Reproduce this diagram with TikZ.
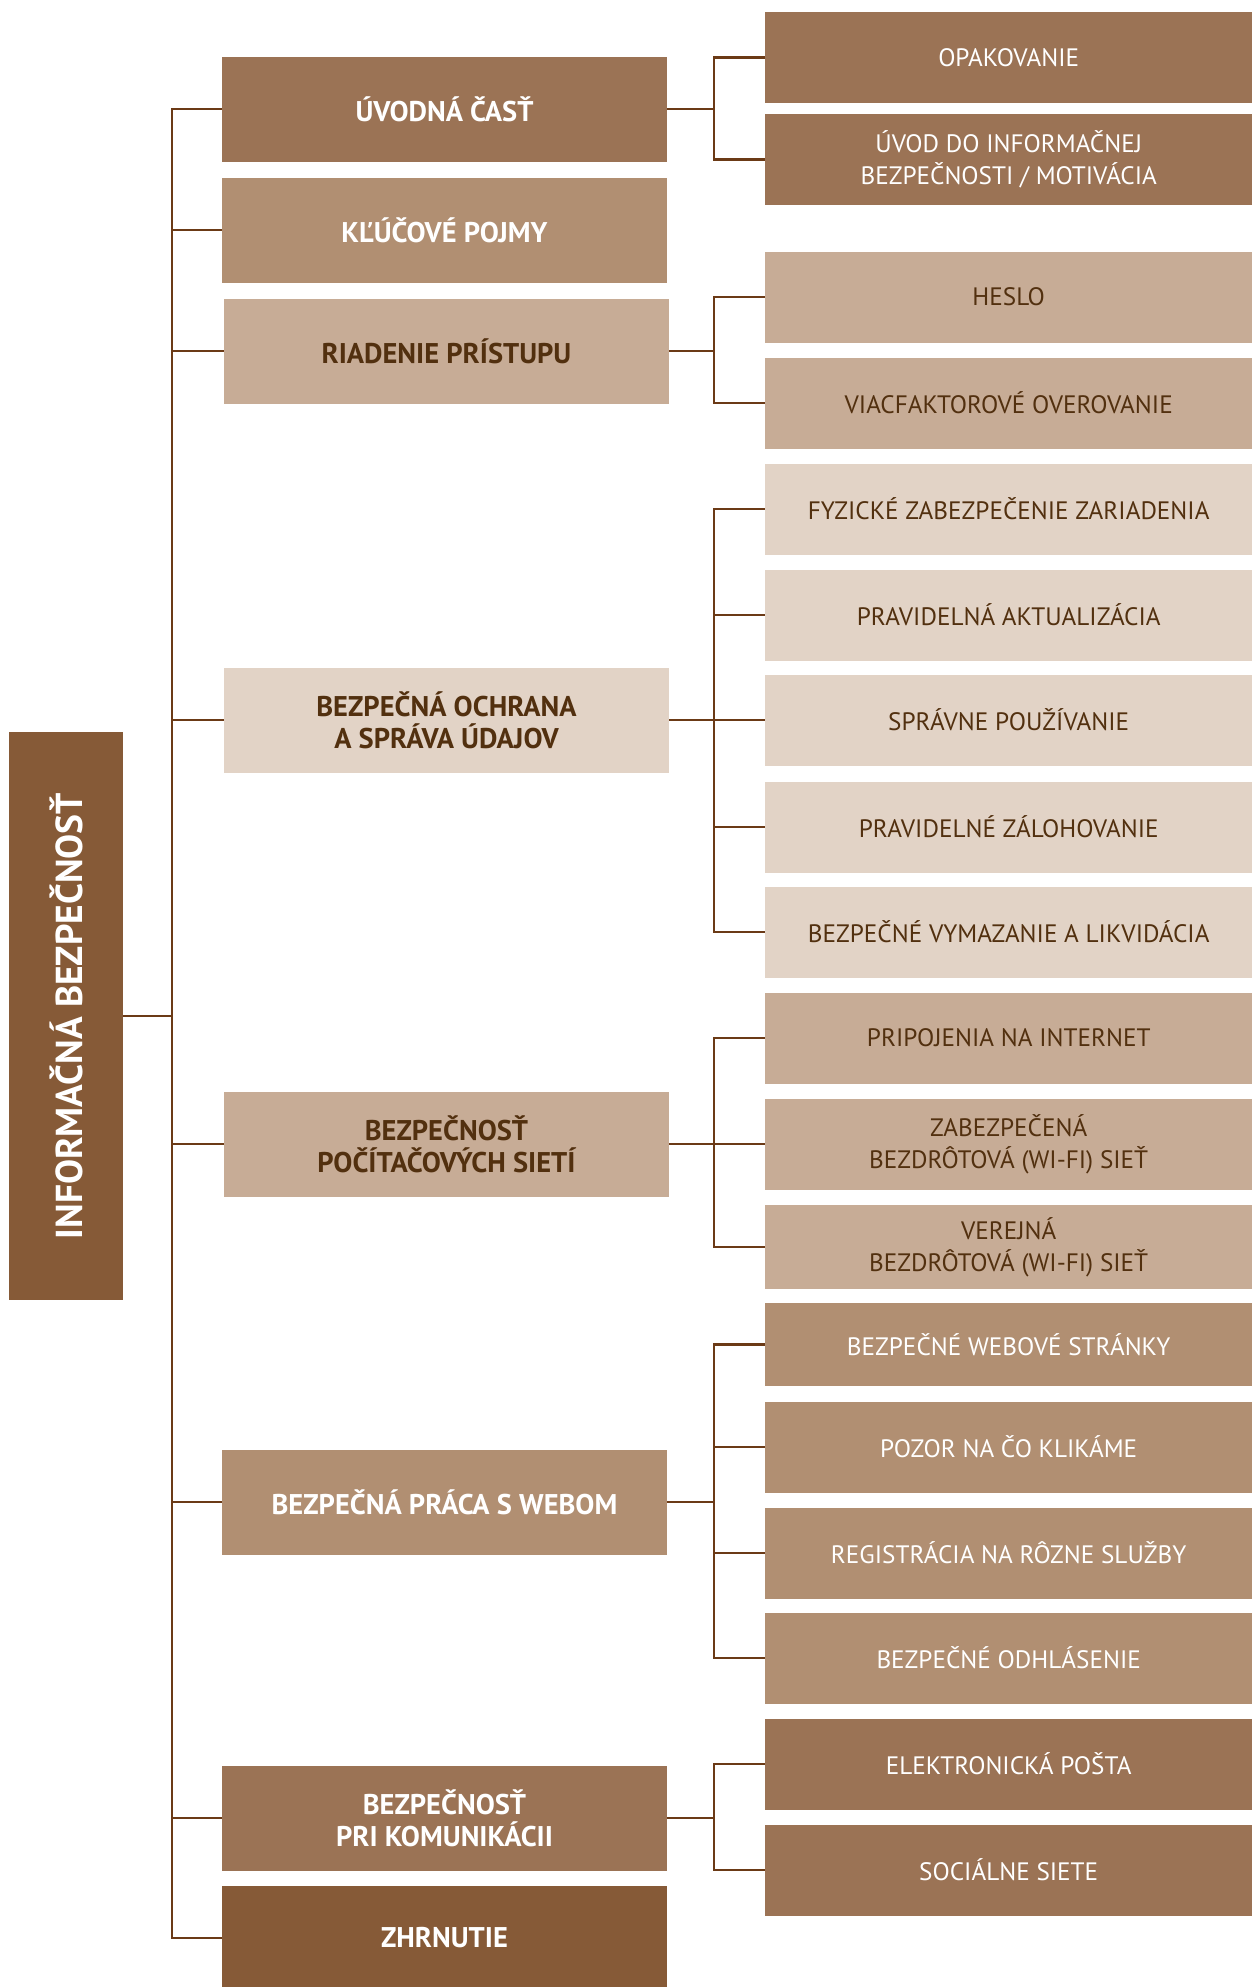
\documentclass[tikz,border=0pt]{standalone}
\usepackage{fontspec}
\setmainfont{PT Sans}
\usetikzlibrary{positioning,calc}
\definecolor{hnedaA}{HTML}{865A37}
\definecolor{hnedaB}{HTML}{9B7355}
\definecolor{hnedaC}{HTML}{B18F72}
\definecolor{hnedaD}{HTML}{C7AC96}
\definecolor{hnedaE}{HTML}{E2D3C6}
\definecolor{pismo}{HTML}{52300F}
\definecolor{ciara}{HTML}{6B3A16}

\begin{document}
\begin{tikzpicture}[x=1pt,y=-1pt,
 box/.style={rectangle,inner sep=0pt,align=center},
 hlavny/.style={box,minimum width=445pt,minimum height=105pt,font=\bfseries\fontsize{28.5}{32}\selectfont},
 podbod/.style={box,anchor=west,minimum width=487pt,minimum height=91pt,font=\fontsize{25.2}{32}\selectfont},
 tA/.style={fill=hnedaA,text=white},
 tB/.style={fill=hnedaB,text=white},
 tC/.style={fill=hnedaC,text=white},
 tD/.style={fill=hnedaD,text=pismo},
 tE/.style={fill=hnedaE,text=pismo},
 ln/.style={draw=ciara,line width=2.3pt}]
 \useasboundingbox (0,0) rectangle (1252,1987);
 % root
 \node[box,tA,rotate=90,minimum width=568pt,minimum height=114pt,font=\bfseries\fontsize{37.5}{40}\selectfont] (root) at (66,1016) {INFORMAČNÁ BEZPEČNOSŤ};
 \coordinate (trunk) at (172,0);
 \coordinate (bus) at (714,0);
 % level 1
 \node[hlavny,tB] (uvod) at (444.5,109) {ÚVODNÁ ČASŤ};
 \node[hlavny,tC] (kluc) at (444.5,230) {KĽÚČOVÉ POJMY};
 \node[hlavny,tD] (riad) at (446.5,351) {RIADENIE PRÍSTUPU};
 \node[hlavny,tE] (ochr) at (446.5,720) {BEZPEČNÁ OCHRANA\\A SPRÁVA ÚDAJOV};
 \node[hlavny,tD] (siete) at (446.5,1144) {BEZPEČNOSŤ\\POČÍTAČOVÝCH SIETÍ};
 \node[hlavny,tC] (web) at (444.5,1502) {BEZPEČNÁ PRÁCA S WEBOM};
 \node[hlavny,tB] (kom) at (444.5,1818) {BEZPEČNOSŤ\\PRI KOMUNIKÁCII};
 \node[hlavny,tA] (zhrn) at (444.5,1938) {ZHRNUTIE};
 % level 2
 \node[podbod,tB] (opak) at (765,57.5) {OPAKOVANIE};
 \node[podbod,tB] (uvinf) at (765,159.5) {ÚVOD DO INFORMAČNEJ\\BEZPEČNOSTI / MOTIVÁCIA};
 \node[podbod,tD] (heslo) at (765,297) {HESLO};
 \node[podbod,tD] (mfa) at (765,403) {VIACFAKTOROVÉ OVEROVANIE};
 \node[podbod,tE] (fyz) at (765,509) {FYZICKÉ ZABEZPEČENIE ZARIADENIA};
 \node[podbod,tE] (aktu) at (765,615) {PRAVIDELNÁ AKTUALIZÁCIA};
 \node[podbod,tE] (pouz) at (765,720) {SPRÁVNE POUŽÍVANIE};
 \node[podbod,tE] (zaloh) at (765,827) {PRAVIDELNÉ ZÁLOHOVANIE};
 \node[podbod,tE] (vymaz) at (765,932) {BEZPEČNÉ VYMAZANIE A LIKVIDÁCIA};
 \node[podbod,tD] (pripoj) at (765,1038) {PRIPOJENIA NA INTERNET};
 \node[podbod,tD] (wifiz) at (765,1144) {ZABEZPEČENÁ\\BEZDRÔTOVÁ (WI-FI) SIEŤ};
 \node[podbod,tD,minimum height=84pt] (wifiv) at (765,1247) {VEREJNÁ\\BEZDRÔTOVÁ (WI-FI) SIEŤ};
 \node[podbod,tC,minimum height=83pt] (webs) at (765,1344.5) {BEZPEČNÉ WEBOVÉ STRÁNKY};
 \node[podbod,tC] (klik) at (765,1447) {POZOR NA ČO KLIKÁME};
 \node[podbod,tC] (regis) at (765,1553) {REGISTRÁCIA NA RÔZNE SLUŽBY};
 \node[podbod,tC] (odhl) at (765,1658) {BEZPEČNÉ ODHLÁSENIE};
 \node[podbod,tB] (mail) at (765,1764) {ELEKTRONICKÁ POŠTA};
 \node[podbod,tB] (soc) at (765,1870) {SOCIÁLNE SIETE};
 % connectors
 \foreach \c in {uvod,kluc,riad,ochr,siete,web,kom,zhrn}
  \draw[ln] (root.south) -- (root.south -| trunk) |- (\c.west);
 \foreach \p/\c in {uvod/opak,uvod/uvinf,riad/heslo,riad/mfa,ochr/fyz,ochr/aktu,ochr/pouz,ochr/zaloh,ochr/vymaz,siete/pripoj,siete/wifiz,siete/wifiv,web/webs,web/klik,web/regis,web/odhl,kom/mail,kom/soc}
  \draw[ln] (\p.east) -- (\p.east -| bus) |- (\c.west);
\end{tikzpicture}
\end{document}
